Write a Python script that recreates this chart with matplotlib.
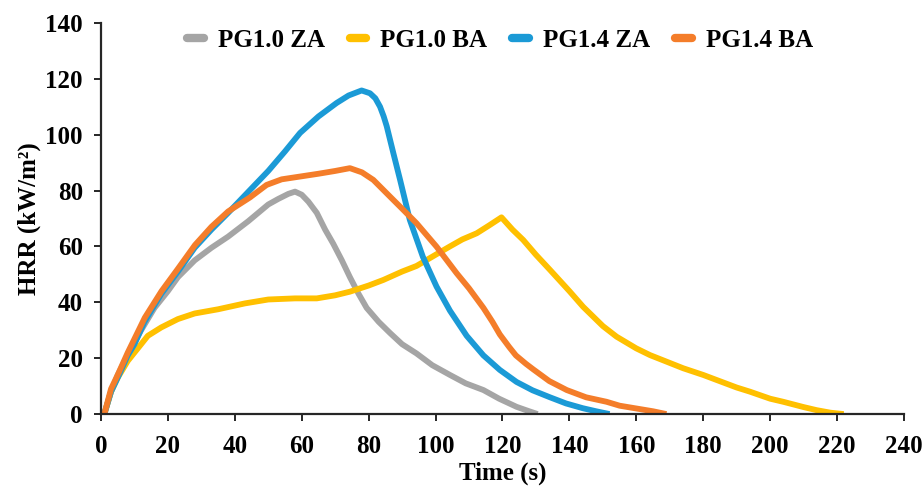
import matplotlib.pyplot as plt
import numpy as np

# HRR curves
t_za10 = [1, 3, 5, 8, 12, 16, 20, 23, 28, 33, 38, 44, 50, 53, 56, 58, 60, 62, 64.5, 67, 69.4, 72, 74.4, 77,
          79.4, 83, 86.4, 90, 94.3, 99, 104.3, 109, 114.3, 119, 124.2, 128, 130.5]
hrr_za10 = [0, 8, 14, 21, 30, 38, 44, 49, 55, 59.5, 63.5, 69, 75, 77, 78.8, 79.6, 78.5, 76, 72, 66, 61, 55,
            49, 43, 38, 33, 29, 25, 21.7, 17.5, 14, 11, 8.6, 5.5, 2.6, 1, 0]

t_ba10 = [1, 3, 5, 8, 10, 14, 18, 23, 28, 35, 43, 50, 58, 64.5, 70, 74.4, 80, 84.4, 90, 94.3, 100, 104.3,
          108, 112.3, 116, 119.7, 123, 126.2, 130, 134.2, 140, 144.1, 150, 154.1, 160, 164.1, 170, 174,
          180, 184, 190, 194, 200, 203.9, 210, 213.9, 218, 222]
hrr_ba10 = [0, 8, 13, 19, 22, 28, 31, 34, 36, 37.5, 39.6, 41, 41.4, 41.4, 42.5, 43.8, 46, 48, 51, 53, 57, 60,
            62.5, 64.7, 67.5, 70.4, 66, 62.3, 57, 51.6, 44, 38.4, 31.5, 27.7, 23.5, 21.1, 18.3, 16.4,
            14, 12.2, 9.5, 8, 5.5, 4.4, 2.5, 1.4, 0.5, 0]

t_za14 = [1, 3, 5, 8, 10, 13, 18, 23, 28, 33, 38, 42, 46, 50, 55, 59.5, 65, 70.4, 74, 77.9, 80.4, 82,
          83.4, 84.5, 85.4, 87.4, 89.4, 92.3, 96.2, 100.3, 104.3, 109.3, 114.3, 119.2, 124.2, 129, 134.2,
          139, 144, 148, 152]
hrr_za14 = [0, 8, 13, 21, 25, 33, 43, 51, 59.5, 66, 72, 77, 82, 87, 94, 100.6, 106.5, 111.3, 114, 115.8,
            114.8, 113, 110, 106.5, 103, 93.3, 83.8, 69.5, 56.3, 45.6, 37, 28, 21, 15.8, 11.5, 8.5, 6,
            3.8, 2.1, 1, 0]

t_ba14 = [1, 3, 5, 8, 13.1, 18.1, 23, 28.1, 33, 38, 44.5, 49.5, 54, 59.5, 65, 70, 74.4, 78, 81.4, 86.4,
          90, 94.3, 100.3, 106.3, 110, 114.3, 117, 119.2, 122, 124, 127, 129.2, 134, 139.2, 145, 151.1,
          155, 160, 165, 169]
hrr_ba14 = [0, 9, 14, 22, 34.5, 44, 52, 60.5, 67, 72.5, 77.5, 82, 84, 85, 86, 87, 88, 86.5, 83.8, 77.8,
            73.5, 68.3, 59.9, 50.4, 45, 38, 33, 28.5, 24, 21, 18, 16, 11.8, 8.6, 6, 4.4, 3, 2, 1, 0]

series = [
    ("PG1.0 ZA", t_za10, hrr_za10, "#A5A5A5"),
    ("PG1.0 BA", t_ba10, hrr_ba10, "#FFC000"),
    ("PG1.4 ZA", t_za14, hrr_za14, "#1B9AD6"),
    ("PG1.4 BA", t_ba14, hrr_ba14, "#F47D2A"),
]

plt.rcParams['font.family'] = ['Liberation Serif', 'DejaVu Serif']
plt.rcParams['font.weight'] = 'bold'

fig = plt.figure(figsize=(9.23, 4.86), dpi=100)
ax = fig.add_axes([0.1094, 0.148, 0.870, 0.805])

for name, t, y, c in series:
    ax.plot(t, y, color=c, lw=4.2, label=name, solid_capstyle='butt', solid_joinstyle='round')

ax.set_xlim(0, 240)
ax.set_ylim(0, 140)
ax.set_xticks(np.arange(0, 241, 20))
ax.set_yticks(np.arange(0, 141, 20))
for s in ['top', 'right']:
    ax.spines[s].set_visible(False)
for s in ['left', 'bottom']:
    ax.spines[s].set_linewidth(1.6)
    ax.spines[s].set_color('#262626')
ax.tick_params(axis='both', direction='out', length=5, width=1.4, color='#262626',
               labelsize=18)
ax.tick_params(axis='x', pad=10)
ax.tick_params(axis='y', pad=8)

ax.set_xlabel("Time (s)", fontsize=18, fontweight='bold', labelpad=3)
ax.set_ylabel("HRR (kW/m²)", fontsize=18, fontweight='bold', labelpad=3)

leg = ax.legend(loc='center', bbox_to_anchor=(0.497, 0.955), ncol=4, frameon=False,
                fontsize=18, handlelength=0.67, handletextpad=0.56, columnspacing=1.0)
for h in leg.get_lines():
    h.set_linewidth(6)
    h.set_solid_capstyle('round')

plt.savefig("out.png", dpi=100)
